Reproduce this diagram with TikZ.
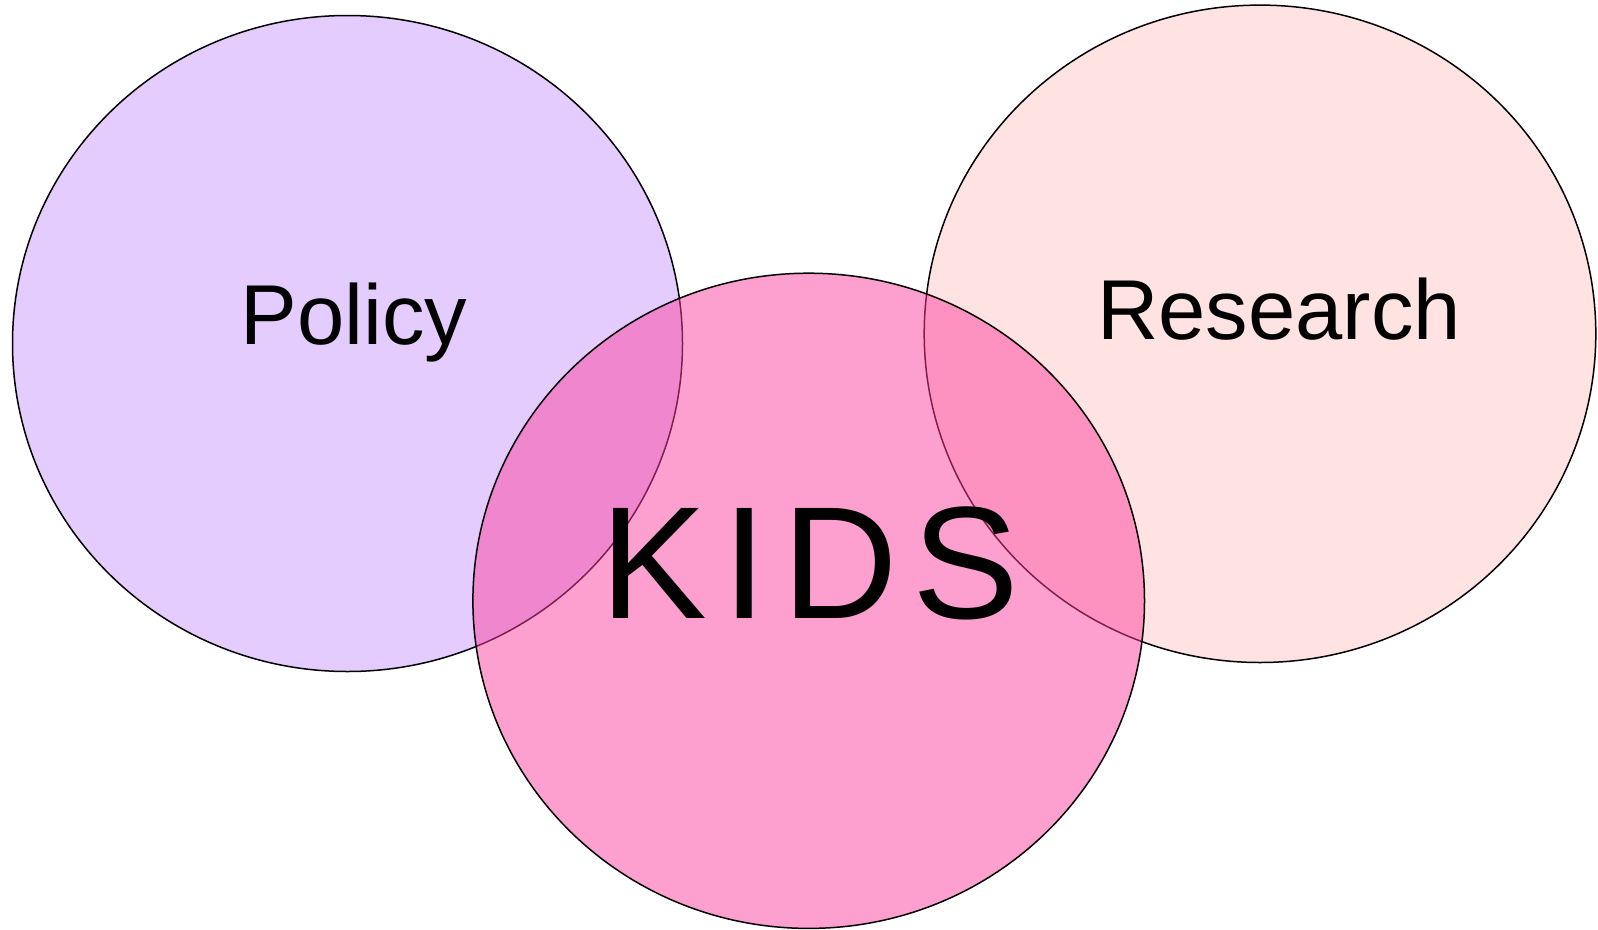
\documentclass[tikz,border=0pt]{standalone}
\usepackage{fontspec}
\setmainfont{Liberation Sans}
\usetikzlibrary{shapes.geometric}
\definecolor{policyfill}{RGB}{228,204,255}
\definecolor{researchfill}{RGB}{255,226,226}
\definecolor{kidsfill}{RGB}{253,65,159}
\begin{document}
\begin{tikzpicture}[x=1pt,y=-1pt,
  circ/.style={ellipse, draw=black, line width=1.5pt, inner sep=0pt, outer sep=0pt},
  smalllabel/.style={anchor=base, inner sep=0pt, font=\fontsize{85}{100}\selectfont},
  biglabel/.style={anchor=base, inner sep=0pt, font=\fontsize{160}{180}\selectfont\addfontfeature{LetterSpace=9.5}}]
\useasboundingbox (0,0) rectangle (1598,929);
\node[circ, fill=policyfill, minimum width=670pt, minimum height=656pt] (policy) at (347.5,343.5) {};
\node[circ, fill=researchfill, minimum width=671.6pt, minimum height=657.4pt] (research) at (1260,333.8) {};
\node[circ, fill=kidsfill, fill opacity=0.5, minimum width=671.6pt, minimum height=655.2pt] (kids) at (808.7,600.8) {};
\node[smalllabel] (policytext) at (354,344.5) {Policy};
\node[smalllabel] (researchtext) at (1279,339.4) {Research};
\node[biglabel] (kidstext) at (810,618.6) {KIDS};
\end{tikzpicture}
\end{document}
